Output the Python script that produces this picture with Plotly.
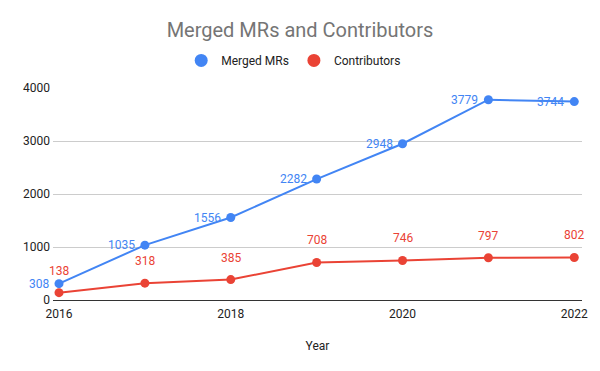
import plotly.graph_objects as go

years = [2016, 2017, 2018, 2019, 2020, 2021, 2022]
merged_mrs = [308, 1035, 1556, 2282, 2948, 3779, 3744]
contributors = [138, 318, 385, 708, 746, 797, 802]
y_ticks = [0, 1000, 2000, 3000, 4000]
x_ticks = [2016, 2018, 2020, 2022]

BLUE = "#4285F4"
RED = "#EA4335"
FONT = "Roboto, Arial, sans-serif"

fig = go.Figure()
fig.add_trace(go.Scatter(x=years, y=merged_mrs, mode="lines+markers", name="Merged MRs", showlegend=False,
                         line=dict(color=BLUE, width=2), marker=dict(color=BLUE, size=9)))
fig.add_trace(go.Scatter(x=years, y=contributors, mode="lines+markers", name="Contributors", showlegend=False,
                         line=dict(color=RED, width=2), marker=dict(color=RED, size=9)))
# legend entries (circle only, as in the reference)
fig.add_trace(go.Scatter(x=[None], y=[None], mode="markers", name="Merged MRs",
                         marker=dict(color=BLUE, size=13)))
fig.add_trace(go.Scatter(x=[None], y=[None], mode="markers", name="Contributors",
                         marker=dict(color=RED, size=13)))

annotations = []
for x, y in zip(years, merged_mrs):
    annotations.append(dict(x=x, y=y, text=str(y), showarrow=False, xanchor="right", yanchor="middle",
                            xshift=-8, font=dict(color=BLUE, size=12, family=FONT)))
for x, y in zip(years, contributors):
    annotations.append(dict(x=x, y=y, text=str(y), showarrow=False, xanchor="center", yanchor="middle",
                            yshift=22, font=dict(color=RED, size=12, family=FONT)))

fig.update_layout(
    width=600, height=371,
    paper_bgcolor="white", plot_bgcolor="white",
    margin=dict(l=53, r=18, t=88, b=71),
    font=dict(family=FONT, size=12, color="#222222"),
    title=dict(text="Merged MRs and Contributors", x=0.5, xanchor="center", y=0.92, yanchor="middle",
               font=dict(size=20, color="#757575", family=FONT)),
    legend=dict(orientation="h", x=0.455, xanchor="center", y=1.13, yanchor="middle",
                font=dict(size=12, color="#222222"), itemwidth=30),
    showlegend=True,
    annotations=annotations,
    xaxis=dict(range=[2015.93, 2022.09], tickvals=x_ticks, ticktext=[str(t) for t in x_ticks],
               showgrid=False, zeroline=False, showline=False, ticks="", ticklabelstandoff=5,
               title=dict(text="Year", font=dict(size=12, color="#222222"), standoff=21),
               tickfont=dict(size=12, color="#222222")),
    yaxis=dict(range=[0, 4000], tickvals=y_ticks, ticktext=[str(t) for t in y_ticks],
               showgrid=True, gridcolor="#CCCCCC", gridwidth=1, zeroline=True, zerolinecolor="#333333",
               zerolinewidth=1, showline=False, ticks="", ticklabelstandoff=2,
               tickfont=dict(size=12, color="#222222")),
)

fig.write_html("out.html", config={"displayModeBar": False},
               post_script="document.body.style.margin='0';")
